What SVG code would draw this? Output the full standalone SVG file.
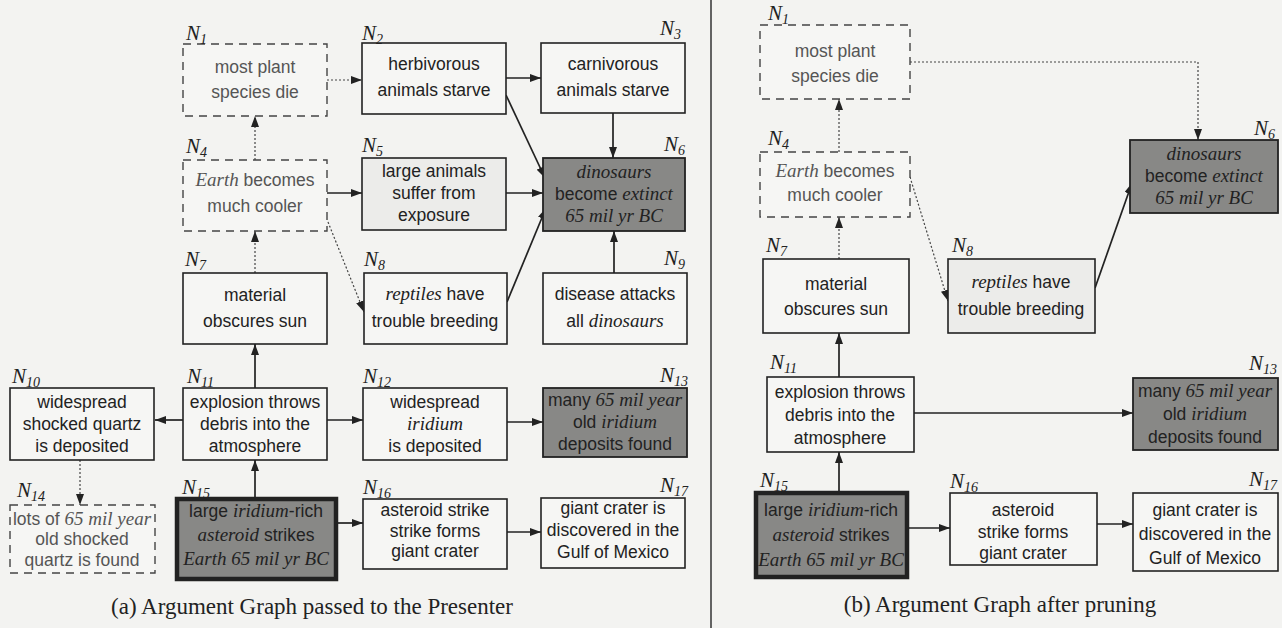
<svg xmlns="http://www.w3.org/2000/svg" width="1282" height="628" viewBox="0 0 1282 628">
<style>
.bg{fill:#f3f3f1}
.box{fill:#f6f6f4;stroke:#222;stroke-width:1.6}
.dot{fill:#ececea;stroke:#222;stroke-width:1.6}
.dash{fill:#f6f6f4;stroke:#444;stroke-width:1.4;stroke-dasharray:8 6}
.dark{fill:#888886;stroke:#222;stroke-width:1.8}
.thick{stroke-width:4.5}
.t{font-family:"Liberation Sans",Arial,sans-serif;font-size:17.5px;fill:#222;text-anchor:middle}
.tl{fill:#555}
.i{font-family:"Liberation Serif","Times New Roman",serif;font-style:italic;font-size:19px}
.lbl{font-family:"Liberation Serif","Times New Roman",serif;font-style:italic;font-size:21px;fill:#222}
.sub{font-size:14px}
.cap{font-family:"Liberation Serif","Times New Roman",serif;font-size:23px;fill:#222}
.c{stroke:#222;stroke-width:1.7;fill:none;marker-end:url(#ah)}
.d{stroke:#444;stroke-width:1.2;fill:none;stroke-dasharray:2 2;marker-end:url(#ah)}
</style>
<defs>
<marker id="ah" markerUnits="userSpaceOnUse" markerWidth="11" markerHeight="8" refX="11" refY="4" orient="auto">
<path d="M0,0 L11,4 L0,8 z" fill="#222"/>
</marker>
</defs>
<rect class="bg" x="0" y="0" width="1282" height="628"/>
<line x1="711" y1="0" x2="711" y2="628" stroke="#333" stroke-width="1.5"/>

<g id="connectors">
<path class="d" d="M327,80 H362"/>
<path class="c" d="M506,78 H541"/>
<path class="c" d="M506,95 L545,178"/>
<path class="c" d="M613,113 V158"/>
<path class="d" d="M255,160 V116"/>
<path class="c" d="M327,193 H362"/>
<path class="c" d="M506,193 H543"/>
<path class="d" d="M328,222 L364,312"/>
<path class="d" d="M255,273 V231"/>
<path class="c" d="M507,302 L546,208"/>
<path class="c" d="M614,273 V231"/>
<path class="c" d="M255,388 V344"/>
<path class="c" d="M183,420 H155"/>
<path class="c" d="M327,420 H363"/>
<path class="c" d="M507,422 H543"/>
<path class="d" d="M80,460 V505"/>
<path class="c" d="M255,498 V460"/>
<path class="c" d="M337,523 H363"/>
<path class="c" d="M507,532 H541"/>

<path class="d" d="M910,62 H1198 V140"/>
<path class="d" d="M839,152 V99"/>
<path class="d" d="M839,259 V217"/>
<path class="d" d="M910,177 L948,301"/>
<path class="c" d="M1095,288 L1132,183"/>
<path class="c" d="M839,377 V333"/>
<path class="c" d="M914,413 H1133"/>
<path class="c" d="M839,493 V452"/>
<path class="c" d="M907,528 H950"/>
<path class="c" d="M1097,524 H1133"/>
</g>

<!-- Left panel -->
<g id="a-N1">
<rect class="dash" x="183" y="44" width="144" height="72"/>
<text class="lbl" x="186" y="40">N<tspan class="sub" dy="4">1</tspan></text>
<text class="t tl" x="255" y="73">most plant</text>
<text class="t tl" x="255" y="98">species die</text>
</g>
<g id="a-N2">
<rect class="box" x="362" y="43" width="144" height="71"/>
<text class="lbl" x="362" y="40">N<tspan class="sub" dy="4">2</tspan></text>
<text class="t" x="434" y="70">herbivorous</text>
<text class="t" x="434" y="96">animals starve</text>
</g>
<g id="a-N3">
<rect class="box" x="541" y="43" width="144" height="70"/>
<text class="lbl" x="660" y="35">N<tspan class="sub" dy="4">3</tspan></text>
<text class="t" x="613" y="70">carnivorous</text>
<text class="t" x="613" y="96">animals starve</text>
</g>
<g id="a-N4">
<rect class="dash" x="183" y="160" width="144" height="71"/>
<text class="lbl" x="186" y="153">N<tspan class="sub" dy="4">4</tspan></text>
<text class="t tl" x="255" y="186"><tspan class="i">Earth</tspan> becomes</text>
<text class="t tl" x="255" y="212">much cooler</text>
</g>
<g id="a-N5">
<rect class="dot" x="362" y="158" width="144" height="72"/>
<text class="lbl" x="362" y="152">N<tspan class="sub" dy="4">5</tspan></text>
<text class="t" x="434" y="177">large animals</text>
<text class="t" x="434" y="199">suffer from</text>
<text class="t" x="434" y="221">exposure</text>
</g>
<g id="a-N6">
<rect class="dark" x="543" y="158" width="142" height="73"/>
<text class="lbl" x="664" y="151">N<tspan class="sub" dy="4">6</tspan></text>
<text class="t" x="614" y="178"><tspan class="i">dinosaurs</tspan></text>
<text class="t" x="614" y="200">become <tspan class="i">extinct</tspan></text>
<text class="t" x="614" y="222"><tspan class="i">65 mil yr BC</tspan></text>
</g>
<g id="a-N7">
<rect class="box" x="183" y="273" width="144" height="71"/>
<text class="lbl" x="185" y="266">N<tspan class="sub" dy="4">7</tspan></text>
<text class="t" x="255" y="301">material</text>
<text class="t" x="255" y="327">obscures sun</text>
</g>
<g id="a-N8">
<rect class="box" x="364" y="273" width="143" height="71"/>
<text class="lbl" x="364" y="266">N<tspan class="sub" dy="4">8</tspan></text>
<text class="t" x="435" y="300"><tspan class="i">reptiles</tspan>  have</text>
<text class="t" x="435" y="327">trouble breeding</text>
</g>
<g id="a-N9">
<rect class="box" x="543" y="273" width="144" height="71"/>
<text class="lbl" x="664" y="265">N<tspan class="sub" dy="4">9</tspan></text>
<text class="t" x="615" y="300">disease attacks</text>
<text class="t" x="615" y="327">all <tspan class="i">dinosaurs</tspan></text>
</g>
<g id="a-N10">
<rect class="box" x="10" y="388" width="144" height="72"/>
<text class="lbl" x="12" y="383">N<tspan class="sub" dy="4">10</tspan></text>
<text class="t" x="82" y="408">widespread</text>
<text class="t" x="82" y="430">shocked quartz</text>
<text class="t" x="82" y="452">is deposited</text>
</g>
<g id="a-N11">
<rect class="box" x="183" y="388" width="144" height="72"/>
<text class="lbl" x="187" y="383">N<tspan class="sub" dy="4">11</tspan></text>
<text class="t" x="255" y="408">explosion throws</text>
<text class="t" x="255" y="430">debris into the</text>
<text class="t" x="255" y="452">atmosphere</text>
</g>
<g id="a-N12">
<rect class="box" x="363" y="388" width="144" height="72"/>
<text class="lbl" x="363" y="383">N<tspan class="sub" dy="4">12</tspan></text>
<text class="t" x="435" y="408">widespread</text>
<text class="t" x="435" y="430"><tspan class="i">iridium</tspan></text>
<text class="t" x="435" y="452">is deposited</text>
</g>
<g id="a-N13">
<rect class="dark" x="543" y="388" width="144" height="69"/>
<text class="lbl" x="660" y="382">N<tspan class="sub" dy="4">13</tspan></text>
<text class="t" x="615" y="406">many <tspan class="i">65 mil year</tspan></text>
<text class="t" x="615" y="428">old <tspan class="i">iridium</tspan></text>
<text class="t" x="615" y="450">deposits found</text>
</g>
<g id="a-N14">
<rect class="dash" x="10" y="505" width="145" height="68"/>
<text class="lbl" x="17" y="497">N<tspan class="sub" dy="4">14</tspan></text>
<text class="t tl" x="82" y="525">lots of <tspan class="i">65 mil year</tspan></text>
<text class="t tl" x="82" y="545">old shocked</text>
<text class="t tl" x="82" y="566">quartz is found</text>
</g>
<g id="a-N15">
<rect class="dark thick" x="177" y="499" width="159" height="80"/>
<text class="lbl" x="182" y="494">N<tspan class="sub" dy="4">15</tspan></text>
<text class="t" x="256" y="517">large <tspan class="i">iridium</tspan>-rich</text>
<text class="t" x="256" y="541"><tspan class="i">asteroid</tspan> strikes</text>
<text class="t" x="256" y="565"><tspan class="i">Earth 65 mil yr BC</tspan></text>
</g>
<g id="a-N16">
<rect class="box" x="363" y="499" width="144" height="70"/>
<text class="lbl" x="363" y="494">N<tspan class="sub" dy="4">16</tspan></text>
<text class="t" x="435" y="516">asteroid strike</text>
<text class="t" x="435" y="537">strike forms</text>
<text class="t" x="435" y="557">giant crater</text>
</g>
<g id="a-N17">
<rect class="box" x="541" y="498" width="144" height="70"/>
<text class="lbl" x="660" y="492">N<tspan class="sub" dy="4">17</tspan></text>
<text class="t" x="613" y="514">giant crater is</text>
<text class="t" x="613" y="536">discovered in the</text>
<text class="t" x="613" y="558">Gulf of Mexico</text>
</g>
<text class="cap" x="312" y="614" text-anchor="middle">(a) Argument Graph passed to the Presenter</text>

<!-- Right panel -->
<g id="b-N1">
<rect class="dash" x="760" y="25" width="150" height="74"/>
<text class="lbl" x="768" y="20">N<tspan class="sub" dy="4">1</tspan></text>
<text class="t tl" x="835" y="57">most plant</text>
<text class="t tl" x="835" y="82">species die</text>
</g>
<g id="b-N4">
<rect class="dash" x="760" y="152" width="150" height="65"/>
<text class="lbl" x="768" y="145">N<tspan class="sub" dy="4">4</tspan></text>
<text class="t tl" x="835" y="177"><tspan class="i">Earth</tspan> becomes</text>
<text class="t tl" x="835" y="201">much cooler</text>
</g>
<g id="b-N6">
<rect class="dark" x="1130" y="140" width="148" height="73"/>
<text class="lbl" x="1254" y="135">N<tspan class="sub" dy="4">6</tspan></text>
<text class="t" x="1204" y="160"><tspan class="i">dinosaurs</tspan></text>
<text class="t" x="1204" y="182">become <tspan class="i">extinct</tspan></text>
<text class="t" x="1204" y="204"><tspan class="i">65 mil yr BC</tspan></text>
</g>
<g id="b-N7">
<rect class="box" x="763" y="259" width="146" height="74"/>
<text class="lbl" x="766" y="252">N<tspan class="sub" dy="4">7</tspan></text>
<text class="t" x="836" y="290">material</text>
<text class="t" x="836" y="315">obscures sun</text>
</g>
<g id="b-N8">
<rect class="dot" x="948" y="259" width="147" height="74"/>
<text class="lbl" x="952" y="252">N<tspan class="sub" dy="4">8</tspan></text>
<text class="t" x="1021" y="288"><tspan class="i">reptiles</tspan>  have</text>
<text class="t" x="1021" y="315">trouble breeding</text>
</g>
<g id="b-N11">
<rect class="box" x="767" y="377" width="147" height="75"/>
<text class="lbl" x="770" y="369">N<tspan class="sub" dy="4">11</tspan></text>
<text class="t" x="840" y="398">explosion throws</text>
<text class="t" x="840" y="421">debris into the</text>
<text class="t" x="840" y="444">atmosphere</text>
</g>
<g id="b-N13">
<rect class="dark" x="1133" y="378" width="145" height="72"/>
<text class="lbl" x="1249" y="370">N<tspan class="sub" dy="4">13</tspan></text>
<text class="t" x="1205" y="397">many <tspan class="i">65 mil year</tspan></text>
<text class="t" x="1205" y="420">old <tspan class="i">iridium</tspan></text>
<text class="t" x="1205" y="443">deposits found</text>
</g>
<g id="b-N15">
<rect class="dark thick" x="756" y="493" width="151" height="84"/>
<text class="lbl" x="760" y="487">N<tspan class="sub" dy="4">15</tspan></text>
<text class="t" x="831" y="516">large <tspan class="i">iridium</tspan>-rich</text>
<text class="t" x="831" y="541"><tspan class="i">asteroid</tspan> strikes</text>
<text class="t" x="831" y="566"><tspan class="i">Earth 65 mil yr BC</tspan></text>
</g>
<g id="b-N16">
<rect class="box" x="950" y="493" width="147" height="72"/>
<text class="lbl" x="950" y="488">N<tspan class="sub" dy="4">16</tspan></text>
<text class="t" x="1023" y="516">asteroid</text>
<text class="t" x="1023" y="538">strike forms</text>
<text class="t" x="1023" y="559">giant crater</text>
</g>
<g id="b-N17">
<rect class="box" x="1133" y="493" width="145" height="78"/>
<text class="lbl" x="1249" y="486">N<tspan class="sub" dy="4">17</tspan></text>
<text class="t" x="1205" y="516">giant crater is</text>
<text class="t" x="1205" y="540">discovered in the</text>
<text class="t" x="1205" y="564">Gulf of Mexico</text>
</g>
<text class="cap" x="1000" y="612" text-anchor="middle">(b) Argument Graph after pruning</text>
</svg>
